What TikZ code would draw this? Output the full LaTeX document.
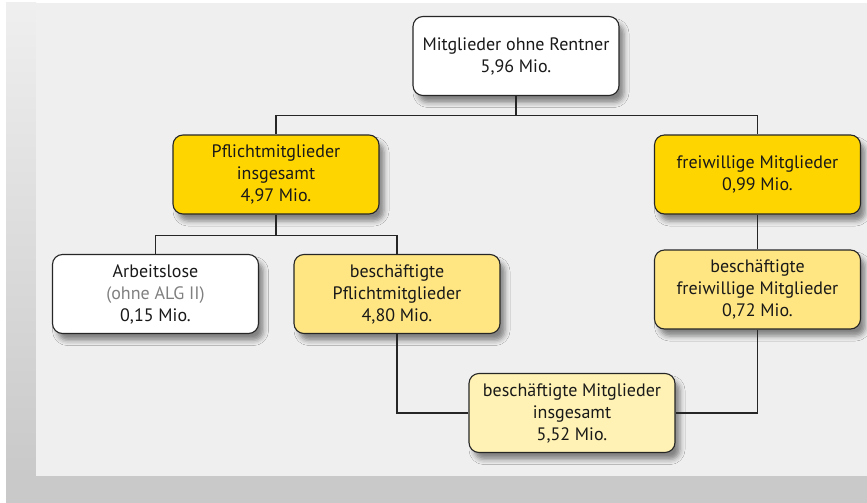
\documentclass[tikz,border=0pt]{standalone}
\usepackage{fontspec}
\setmainfont{PT Sans}
\usetikzlibrary{shadows.blur}
\definecolor{panelgray}{HTML}{EFEFEF}
\definecolor{stripgray}{HTML}{C8C9C8}
\definecolor{gold}{HTML}{FFD500}
\definecolor{lightgold}{HTML}{FFE682}
\definecolor{palegold}{HTML}{FFF2B4}
\definecolor{notegray}{HTML}{808080}
\begin{document}
\begin{tikzpicture}[x=1pt,y=-1pt,font=\fontsize{18}{22}\selectfont]
	\def \rowone{56}
	\def \rowtwo{174.5}
	\def \rowthree{294}
	\def \rowfour{413}
	\tikzstyle{box}=[draw=black!85,line width=1.1pt,rounded corners=10pt,minimum width=206pt,minimum height=79pt,inner sep=0pt,align=center,text=black!90,blur shadow={shadow xshift=5pt,shadow yshift=-7pt,shadow blur radius=5pt,shadow opacity=45}]
	\tikzstyle{w-box}=[box,fill=white]
	\tikzstyle{g-box}=[box,fill=gold]
	\tikzstyle{l-box}=[box,fill=lightgold]
	\tikzstyle{p-box}=[box,fill=palegold]
	\tikzstyle{link}=[draw=black!85,line width=1.1pt]
	% background
	\useasboundingbox (0,0) rectangle (867,503);
	\fill[white] (0,0) rectangle (867,503);
	\shade[top color=panelgray,bottom color=stripgray] (6,3) rectangle (36,476);
	\fill[panelgray] (36,3) rectangle (867,476);
	\fill[stripgray] (6,476) rectangle (867,503);

	% top
	\node[w-box] 	(root)	at (516,\rowone)		{Mitglieder ohne Rentner\\5,96 Mio.};
	% second row
	\node[g-box] 	(pflicht)	at (276,\rowtwo)	{Pflichtmitglieder\\insgesamt\\4,97 Mio.};
	\node[g-box] 	(freiw)	at (757.5,\rowtwo)		{freiwillige Mitglieder\\0,99 Mio.};
	% third row
	\node[w-box] 	(alos)	at (155.5,\rowthree)	{Arbeitslose\\\textcolor{notegray}{(ohne ALG II)}\\0,15 Mio.};
	\node[l-box] 	(bpflicht)	at (397,\rowthree)	{beschäftigte\\Pflichtmitglieder\\4,80 Mio.};
	\node[l-box] 	(bfreiw)	at (757.5,289.5)	{beschäftigte\\freiwillige Mitglieder\\0,72 Mio.};
	% bottom
	\node[p-box] 	(gesamt)	at (572,\rowfour)	{beschäftigte Mitglieder\\insgesamt\\5,52 Mio.};

	% connectors
	\draw[link] (root.south) -- ++(0,19) -| (pflicht.north);
	\draw[link] (root.south) -- ++(0,19) -| (freiw.north);
	\draw[link] (pflicht.south) -- ++(0,20.5) -| (alos.north);
	\draw[link] (pflicht.south) -- ++(0,20.5) -| (bpflicht.north);
	\path[link]
		(freiw)	edge	(bfreiw);
	\draw[link] (bpflicht.south) |- (gesamt.west);
	\draw[link] (bfreiw.south) |- (gesamt.east);
\end{tikzpicture}
\end{document}
